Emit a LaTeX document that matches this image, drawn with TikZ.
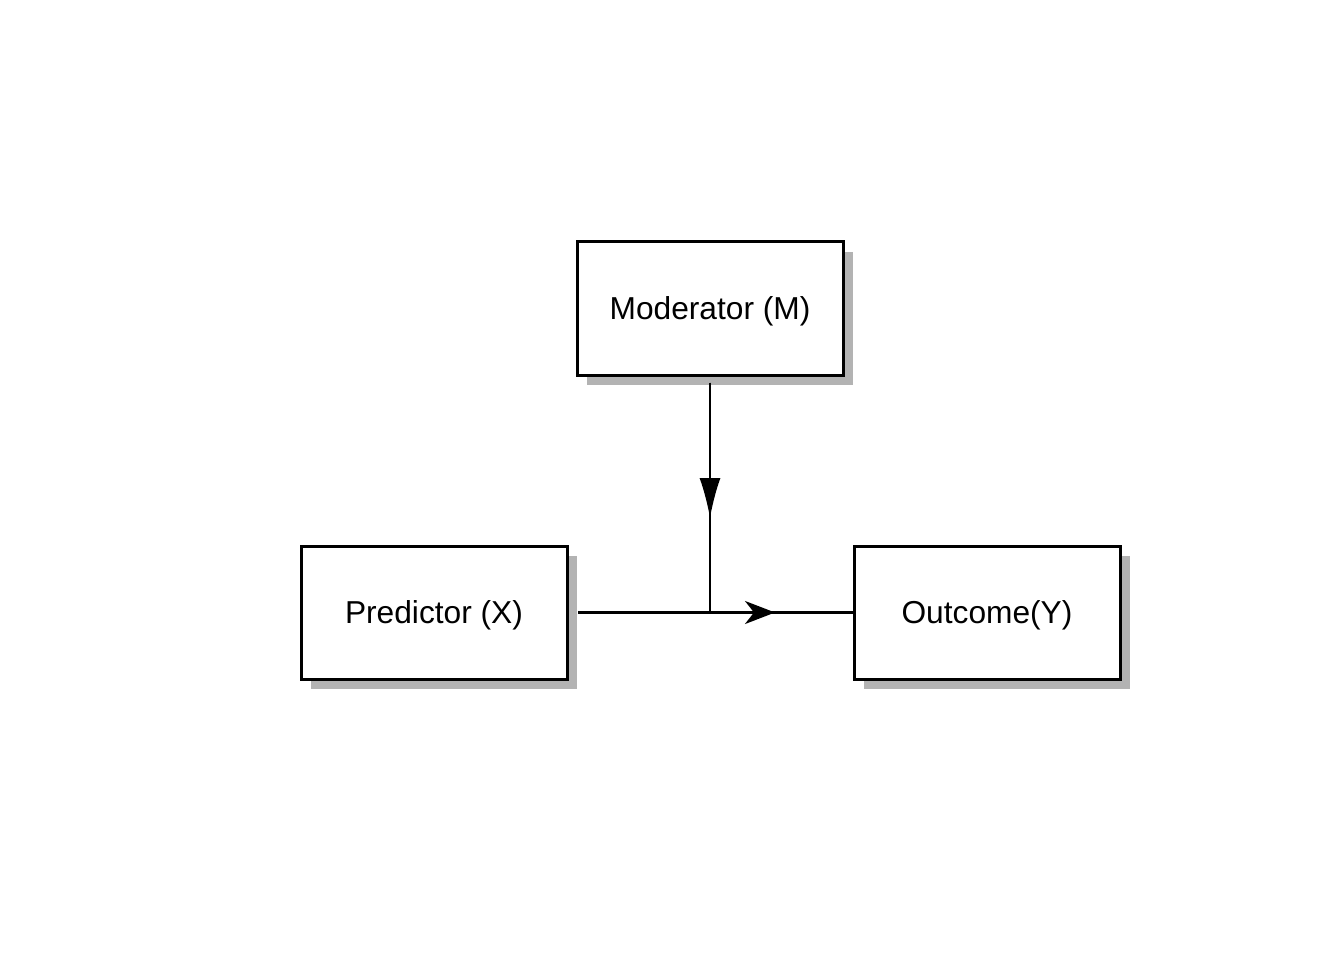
\documentclass[tikz,border=0pt]{standalone}
\usepackage{fontspec}
\setmainfont{Liberation Sans}
\usetikzlibrary{arrows.meta,shadows}
\definecolor{shadowgray}{RGB}{179,179,179}
\begin{document}
\begin{tikzpicture}[x=1pt,y=-1pt,
  varbox/.style={draw=black, line width=3pt, fill=white, rectangle,
    minimum width=266pt, minimum height=133pt, inner sep=0pt,
    text depth=0pt,
    font=\fontsize{31.7}{38}\selectfont,
    drop shadow={shadow xshift=10pt, shadow yshift=-10pt, fill=shadowgray, opacity=1}},
  mainline/.style={line width=2.6pt},
  modline/.style={line width=1.6pt}]
\useasboundingbox (0,0) rectangle (1344,960);
\node[varbox] (M) at (710,308.5) {Moderator (M)};
\node[varbox] (X) at (434,612.5) {Predictor (X)};
\node[varbox] (Y) at (987,612.5) {Outcome(Y)};
\coordinate (ht) at (775,612.5);
\coordinate (vt) at (710,518);
\coordinate (j) at (M.south |- X.east);
% main path X -> Y
\draw[mainline] ([xshift=9.5pt]X.east) -- (Y.west);
\draw[mainline,-{Stealth[length=30pt,width=23pt,inset=9pt]}] ([xshift=9.5pt]X.east) -- (ht);
% moderator path
\draw[modline] ([yshift=-6pt]M.south) -- (j);
\draw[modline,-{Latex[length=40pt,width=21pt]}] ([yshift=-6pt]M.south) -- (vt);
\end{tikzpicture}
\end{document}
